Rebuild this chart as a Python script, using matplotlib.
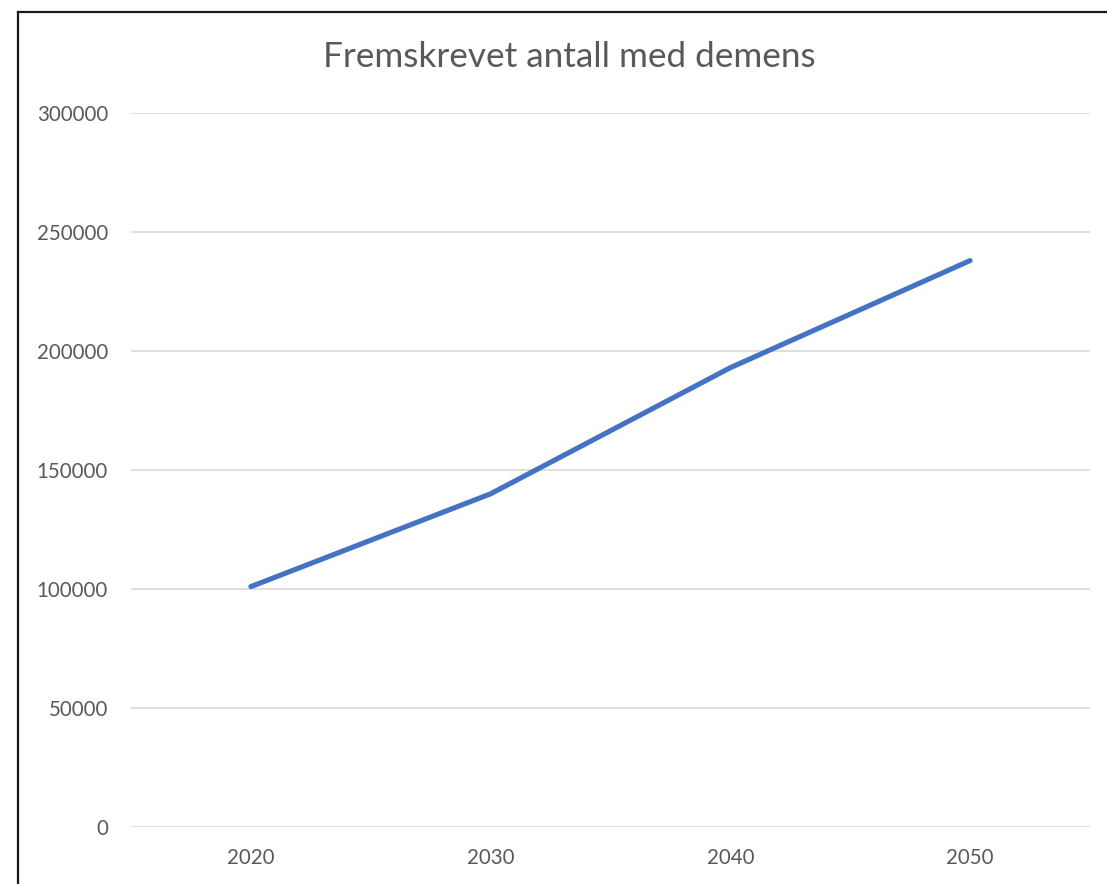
import matplotlib
matplotlib.use("Agg")
import matplotlib.pyplot as plt
from matplotlib.lines import Line2D

years = ["2020", "2030", "2040", "2050"]
antall = [101000, 140000, 193000, 238000]
yticks = [0, 50000, 100000, 150000, 200000, 250000, 300000]
title = "Fremskrevet antall med demens"

W, H = 1107, 884
fig = plt.figure(figsize=(W / 100, H / 100), dpi=100)
fig.patch.set_facecolor("white")

ax = fig.add_axes([131 / W, 1 - 827 / H, (1090 - 131) / W, (827 - 113) / H])
x = list(range(len(years)))
ax.plot(x, antall, color="#4472C4", lw=3.7, solid_capstyle="round", solid_joinstyle="round", zorder=3)
ax.set_xlim(-0.5, len(years) - 0.5)
ax.set_ylim(0, 300000)
ax.set_yticks(yticks)
ax.set_yticklabels([str(v) for v in yticks])
ax.set_xticks(x)
ax.set_xticklabels(years)
ax.grid(axis="y", color="#D9D9D9", lw=1.2)
ax.set_axisbelow(True)
for s in ax.spines.values():
    s.set_visible(False)
ax.tick_params(length=0, labelsize=14.8, labelcolor="#595959")
ax.tick_params(axis="y", pad=16.5)
ax.tick_params(axis="x", pad=15)
for lab in ax.get_xticklabels() + ax.get_yticklabels():
    lab.set_family("Lato")

fig.text(569 / W, 1 - 57 / H, title, ha="center", va="center", fontsize=25.3, color="#595959", family="Lato")

# chart frame (cropped at right/bottom)
fig.add_artist(Line2D([18 / W, 18 / W], [0, 1 - 12 / H], color="#1a1a1a", lw=1.6, transform=fig.transFigure))
fig.add_artist(Line2D([18 / W, 1], [1 - 12 / H, 1 - 12 / H], color="#1a1a1a", lw=1.6, transform=fig.transFigure))

fig.savefig("out.png", dpi=100)
